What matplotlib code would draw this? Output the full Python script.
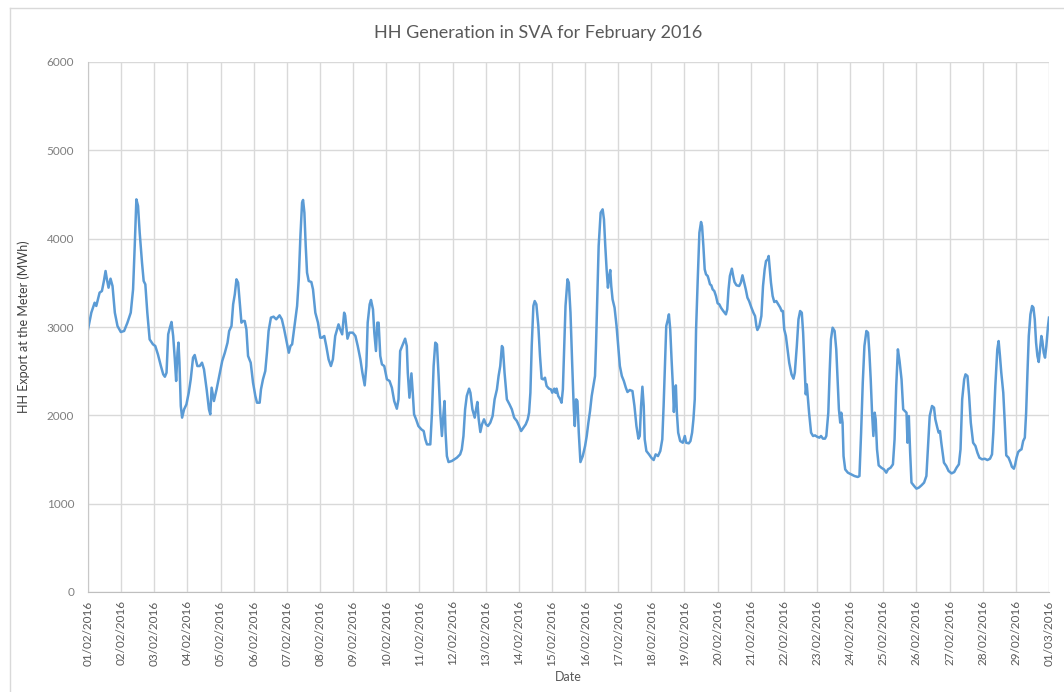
import numpy as np
import pandas as pd
import matplotlib
matplotlib.use("Agg")
import matplotlib.pyplot as plt
import matplotlib.dates as mdates
from matplotlib.lines import Line2D

# ============================================================
# DATA (days since 01/02/2016 -> MWh)
# ============================================================

day_offset = [
    0.00, 0.10, 0.20, 0.25, 0.30, 0.35, 0.42, 0.48, 0.53, 0.57, 0.62, 0.68, 0.74, 0.81, 0.89, 0.99,
    1.09, 1.19, 1.29, 1.36, 1.41, 1.46, 1.51, 1.56, 1.63, 1.68, 1.73, 1.79, 1.86, 1.96,
    2.03, 2.11, 2.20, 2.27, 2.32, 2.37, 2.42, 2.47, 2.52, 2.57, 2.62, 2.66, 2.70, 2.73, 2.76, 2.80, 2.84, 2.90, 2.97,
    3.04, 3.10, 3.17, 3.22, 3.30, 3.37, 3.44, 3.50, 3.58, 3.65, 3.69, 3.73, 3.80, 3.88, 3.98,
    4.05, 4.13, 4.21, 4.26, 4.33, 4.38, 4.43, 4.48, 4.53, 4.58, 4.63, 4.68, 4.73, 4.78, 4.83, 4.91, 4.98,
    5.05, 5.10, 5.18, 5.22, 5.28, 5.35, 5.40, 5.45, 5.52, 5.60, 5.68, 5.78, 5.85, 5.92, 5.98,
    6.06, 6.11, 6.16, 6.23, 6.31, 6.36, 6.41, 6.46, 6.49, 6.53, 6.57, 6.61, 6.66, 6.74, 6.79, 6.86, 6.94,
    7.01, 7.06, 7.13, 7.19, 7.26, 7.33, 7.39, 7.46, 7.53, 7.56, 7.61, 7.67, 7.73, 7.76, 7.83, 7.89, 7.99,
    8.07, 8.14, 8.22, 8.28, 8.35, 8.40, 8.44, 8.50, 8.54, 8.60, 8.64, 8.69, 8.73, 8.77, 8.82, 8.87, 8.94,
    9.02, 9.10, 9.17, 9.24, 9.32, 9.37, 9.42, 9.50, 9.57, 9.62, 9.65, 9.70, 9.76, 9.80, 9.84, 9.90, 9.97,
    10.06, 10.13, 10.18, 10.23, 10.33, 10.38, 10.43, 10.48, 10.53, 10.58, 10.63, 10.68, 10.73, 10.76, 10.79, 10.83, 10.88, 10.98,
    11.06, 11.13, 11.23, 11.28, 11.33, 11.38, 11.43, 11.50, 11.54, 11.60, 11.67, 11.71, 11.75, 11.79, 11.84, 11.89, 11.95,
    12.01, 12.07, 12.14, 12.21, 12.27, 12.34, 12.39, 12.44, 12.49, 12.52, 12.57, 12.64, 12.72, 12.79, 12.86, 12.94,
    13.01, 13.07, 13.14, 13.21, 13.27, 13.31, 13.35, 13.39, 13.44, 13.48, 13.53, 13.59, 13.64, 13.69, 13.74, 13.79, 13.84, 13.91, 13.97,
    14.01, 14.07, 14.11, 14.14, 14.19, 14.25, 14.29, 14.33, 14.37, 14.41, 14.47, 14.51, 14.56, 14.61, 14.66, 14.69, 14.73, 14.77, 14.81, 14.86, 14.93,
    15.00, 15.05, 15.10, 15.15, 15.20, 15.25, 15.30, 15.33, 15.37, 15.41, 15.47, 15.53, 15.57, 15.61, 15.65, 15.69, 15.73, 15.76, 15.79, 15.83, 15.89, 15.95,
    16.01, 16.05, 16.11, 16.17, 16.23, 16.28, 16.35, 16.43, 16.49, 16.55, 16.61, 16.65, 16.69, 16.73, 16.77, 16.80, 16.85, 16.93,
    17.00, 17.07, 17.13, 17.20, 17.27, 17.33, 17.37, 17.41, 17.45, 17.50, 17.53, 17.57, 17.61, 17.65, 17.68, 17.71, 17.74, 17.77, 17.81, 17.87, 17.95,
    18.01, 18.05, 18.13, 18.18, 18.23, 18.27, 18.31, 18.35, 18.40, 18.45, 18.50, 18.53, 18.57, 18.61, 18.65, 18.70, 18.73, 18.77, 18.81, 18.85, 18.90, 18.95,
    19.00, 19.05, 19.10, 19.17, 19.25, 19.29, 19.33, 19.37, 19.43, 19.47, 19.51, 19.57, 19.65, 19.70, 19.75,
    19.85, 19.90, 19.95, 20.02, 20.08, 20.13, 20.17, 20.20, 20.26, 20.32, 20.37, 20.42, 20.46, 20.51, 20.54, 20.57, 20.61, 20.66, 20.71, 20.77, 20.83, 20.89, 20.93, 20.97,
    21.01, 21.06, 21.11, 21.16, 21.23, 21.29, 21.33, 21.39, 21.44, 21.49, 21.54, 21.58, 21.62, 21.66, 21.69, 21.72, 21.76, 21.82, 21.88, 21.94,
    22.00, 22.07, 22.12, 22.18, 22.24, 22.28, 22.34, 22.38, 22.42, 22.47, 22.53, 22.58, 22.62, 22.66, 22.70, 22.73, 22.77, 22.80, 22.85, 22.93,
    23.03, 23.13, 23.23, 23.28, 23.33, 23.38, 23.43, 23.49, 23.54, 23.58, 23.62, 23.66, 23.70, 23.74, 23.77, 23.81, 23.86, 23.94,
    24.02, 24.09, 24.14, 24.22, 24.29, 24.34, 24.39, 24.44, 24.49, 24.55, 24.60,
    24.70, 24.73, 24.77, 24.81, 24.85, 24.93, 25.00, 25.07, 25.15, 25.23, 25.30, 25.35, 25.40, 25.47, 25.53, 25.57, 25.63, 25.67, 25.71, 25.75, 25.83, 25.90, 25.97,
    26.06, 26.14, 26.21, 26.28, 26.33, 26.38, 26.44, 26.48, 26.54, 26.59, 26.64, 26.71, 26.78, 26.84, 26.90, 26.98,
    27.06, 27.14, 27.22, 27.28, 27.32, 27.38, 27.44, 27.48, 27.52, 27.56, 27.62, 27.66, 27.71, 27.78, 27.84, 27.88, 27.94, 27.98,
    28.02, 28.07, 28.13, 28.17, 28.22, 28.27, 28.31, 28.35, 28.39, 28.44, 28.49, 28.53, 28.57, 28.61, 28.65, 28.69, 28.73, 28.77, 28.80, 28.84, 28.88, 28.92, 28.97, 29.00,
]

export_mwh = [
    2973, 3162, 3275, 3238, 3313, 3389, 3407, 3521, 3634, 3540, 3445, 3547, 3464, 3162, 3011, 2943,
    2955, 3049, 3162, 3426, 3917, 4445, 4370, 4068, 3728, 3521, 3483, 3162, 2860, 2804,
    2785, 2690, 2558, 2464, 2437, 2483, 2917, 2992, 3057, 2898, 2634, 2389, 2709, 2823, 2596, 2106, 1974, 2068, 2124,
    2256, 2407, 2653, 2683, 2558, 2558, 2596, 2521, 2294, 2068, 2011, 2313, 2162, 2294, 2483,
    2615, 2709, 2822, 2955, 3011, 3257, 3370, 3540, 3502, 3275, 3049, 3068, 3068, 2973, 2672, 2596, 2370,
    2219, 2143, 2143, 2294, 2407, 2502, 2709, 2955, 3106, 3117, 3087, 3132, 3087, 2973, 2860,
    2709, 2785, 2804, 3011, 3238, 3540, 4030, 4408, 4438, 4294, 3917, 3615, 3521, 3509, 3426, 3162, 3049,
    2879, 2879, 2898, 2785, 2634, 2558, 2634, 2898, 2992, 3030, 2973, 2917, 3162, 3132, 2868, 2936, 2936,
    2898, 2785, 2634, 2483, 2339, 2558, 3049, 3257, 3306, 3200, 2936, 2728, 3049, 3049, 2672, 2577, 2558,
    2407, 2389, 2313, 2162, 2075, 2181, 2728, 2804, 2868, 2785, 2483, 2200, 2475, 2256, 2011, 1955, 1879,
    1841, 1822, 1728, 1671, 1671, 2030, 2558, 2823, 2804, 2445, 2030, 1766, 2030, 2162, 1804, 1539, 1471, 1483,
    1502, 1520, 1558, 1615, 1766, 2068, 2219, 2302, 2256, 2068, 1974, 2068, 2151, 1955, 1811, 1898, 1955,
    1898, 1879, 1917, 1992, 2181, 2294, 2445, 2558, 2785, 2766, 2483, 2181, 2124, 2068, 1974, 1936,
    1879, 1822, 1860, 1898, 1955, 2030, 2256, 2785, 3238, 3294, 3257, 3011, 2672, 2415, 2407, 2426, 2332, 2302, 2294,
    2256, 2302, 2256, 2302, 2219, 2181, 2143, 2294, 2785, 3238, 3540, 3502, 3162, 2596, 2068, 1879, 2181, 2162, 1804, 1471, 1539,
    1652, 1766, 1917, 2049, 2219, 2332, 2445, 2785, 3351, 3917, 4294, 4332, 4219, 3917, 3653, 3445, 3577, 3645, 3464, 3313, 3219, 3011,
    2747, 2558, 2445, 2389, 2313, 2264, 2287, 2275, 2106, 1879, 1736, 1766, 2106, 2324, 2106, 1728, 1596, 1558,
    1520, 1494, 1558, 1539, 1596, 1728, 2106, 2558, 3011, 3087, 3143, 2973, 2634, 2332, 2038, 2256, 2339, 2030, 1804, 1709, 1690,
    1766, 1690, 1683, 1709, 1804, 1955, 2181, 2973, 3540, 4068, 4189, 4143, 3917, 3653, 3596, 3577, 3540, 3483, 3472, 3426, 3407, 3351,
    3268, 3257, 3219, 3181, 3143, 3200, 3426, 3577, 3660, 3577, 3509, 3472, 3464, 3502, 3585,
    3426, 3332, 3294, 3219, 3162, 3124, 3011, 2966, 3011, 3124, 3464, 3653, 3747, 3766, 3804, 3672, 3502, 3351, 3283, 3294, 3257, 3219, 3181, 3181,
    2973, 2898, 2747, 2596, 2464, 2415, 2483, 2785, 3087, 3181, 3162, 2936, 2596, 2238, 2351, 2219, 2030, 1804, 1766, 1773,
    1758, 1747, 1766, 1736, 1736, 1766, 2030, 2483, 2860, 2992, 2955, 2747, 2407, 2068, 1917, 2030, 1917, 1539, 1388, 1351,
    1332, 1313, 1302, 1313, 1804, 2370, 2785, 2955, 2936, 2709, 2407, 2030, 1766, 2030, 1955, 1615, 1434, 1407,
    1388, 1351, 1388, 1407, 1445, 1728, 2332, 2747, 2615, 2407, 2068,
    2030, 1690, 1992, 1577, 1238, 1200, 1170, 1181, 1207, 1238, 1313, 1653, 1992, 2106, 2087, 1955, 1860, 1804, 1822, 1690, 1464, 1426, 1370,
    1343, 1358, 1407, 1445, 1615, 2181, 2407, 2464, 2445, 2219, 1917, 1690, 1653, 1577, 1520, 1502,
    1509, 1494, 1509, 1558, 1804, 2332, 2747, 2841, 2672, 2483, 2256, 1955, 1547, 1520, 1464, 1418, 1396, 1445,
    1520, 1585, 1607, 1615, 1709, 1747, 2030, 2483, 2898, 3143, 3238, 3219, 3087, 2823, 2672, 2604, 2747, 2898, 2841, 2709, 2653, 2785, 3011, 3106,
]

y_ticks = [0, 1000, 2000, 3000, 4000, 5000, 6000]

# ============================================================
# PLOT
# ============================================================

plt.rcParams["font.family"] = ["Lato", "DejaVu Sans"]
grey_txt = "#595959"
tick_txt = "#7f7f7f"
grid_col = "#d9d9d9"

start = pd.Timestamp("2016-02-01")
times = start + pd.to_timedelta(np.array(day_offset), unit="D")

fig = plt.figure(figsize=(10.64, 6.92), dpi=100)
ax = fig.add_axes([88 / 1064, 1 - 592 / 692, (1049 - 88) / 1064, (592 - 62) / 692])

ax.plot(times, export_mwh, color="#5B9BD5", linewidth=1.8, solid_joinstyle="round")

ax.set_xlim(start, pd.Timestamp("2016-03-01"))
ax.set_ylim(0, 6000)
ax.set_yticks(y_ticks)
ax.xaxis.set_major_locator(mdates.DayLocator())
ax.xaxis.set_major_formatter(mdates.DateFormatter("%d/%m/%Y"))
ax.grid(True, color=grid_col, linewidth=1.0)
ax.set_axisbelow(True)

for s in ["top", "right"]:
    ax.spines[s].set_visible(False)
ax.spines["left"].set_color("#c8c8c8")
ax.spines["bottom"].set_color("#bfbfbf")

ax.tick_params(axis="y", length=0, pad=10, labelsize=8.5, labelcolor=tick_txt)
ax.tick_params(axis="x", length=0, pad=6, labelsize=8.5, labelcolor=grey_txt, labelrotation=90)

ax.set_xlabel("Date", fontsize=9, color=grey_txt, labelpad=4)
ax.set_ylabel("HH Export at the Meter (MWh)", fontsize=9, color="#404040", labelpad=12)

fig.text(538 / 1064, 1 - 33 / 692, "HH Generation in SVA for February 2016",
         ha="center", va="center", fontsize=13, color=grey_txt)

# chart area border (left/top edges visible in the reference)
fig.add_artist(Line2D([10 / 1064, 10 / 1064], [0, 1 - 8 / 692], transform=fig.transFigure,
                      color=grid_col, linewidth=1))
fig.add_artist(Line2D([10 / 1064, 1], [1 - 8 / 692, 1 - 8 / 692], transform=fig.transFigure,
                      color=grid_col, linewidth=1))

fig.savefig("out.png", dpi=100)
